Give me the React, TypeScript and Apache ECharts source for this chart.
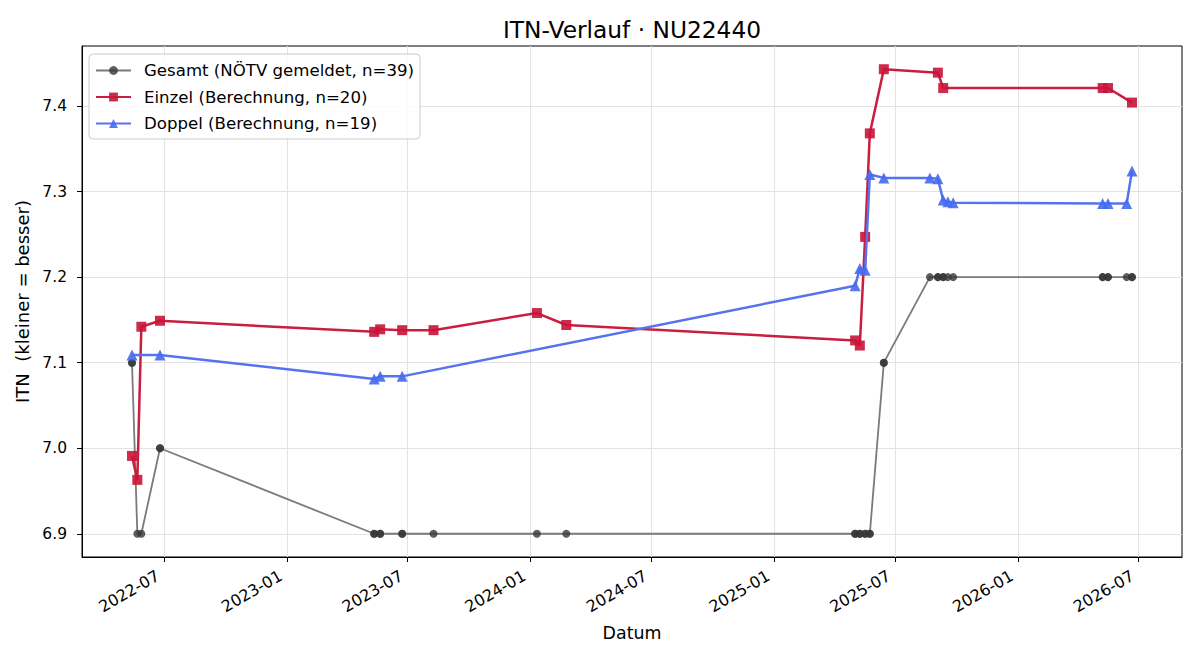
import React, { useEffect, useRef } from "react";
import * as echarts from "echarts";

// Einzel-Berechnungen (Datum, ITN)
const einzelDates = [
  "2022-05-14", "2022-05-22", "2022-05-28", "2022-06-25",
  "2023-05-12", "2023-05-21", "2023-06-23", "2023-08-09",
  "2024-01-11", "2024-02-24",
  "2025-05-02", "2025-05-09", "2025-05-17", "2025-05-24", "2025-06-14",
  "2025-09-03", "2025-09-11",
  "2026-05-08", "2026-05-16", "2026-06-21",
];
const einzelValues = [
  6.991, 6.963, 7.142, 7.149,
  7.136, 7.139, 7.138, 7.138,
  7.158, 7.144,
  7.126, 7.12, 7.247, 7.368, 7.443,
  7.439, 7.421,
  7.421, 7.421, 7.404,
];

// Doppel-Berechnungen (Datum, ITN)
const doppelDates = [
  "2022-05-14", "2022-06-25",
  "2023-05-12", "2023-05-21", "2023-06-23",
  "2025-05-02", "2025-05-09", "2025-05-17", "2025-05-24", "2025-06-14",
  "2025-08-22", "2025-09-03", "2025-09-11", "2025-09-18", "2025-09-26",
  "2026-05-08", "2026-05-16", "2026-06-13", "2026-06-21",
];
const doppelValues = [
  7.109, 7.109,
  7.081, 7.084, 7.084,
  7.19, 7.21, 7.208, 7.32, 7.316,
  7.316, 7.315, 7.29, 7.288, 7.287,
  7.286, 7.286, 7.286, 7.324,
];

// Vom NÖTV gemeldete Werte, ein Eintrag pro Spiel
const gesamtDates = [
  "2022-05-14", "2022-05-14", "2022-05-22", "2022-05-28", "2022-06-25", "2022-06-25",
  "2023-05-12", "2023-05-12", "2023-05-21", "2023-05-21", "2023-06-23", "2023-06-23",
  "2023-08-09", "2024-01-11", "2024-02-24",
  "2025-05-02", "2025-05-02", "2025-05-09", "2025-05-09",
  "2025-05-17", "2025-05-17", "2025-05-24", "2025-05-24",
  "2025-06-14", "2025-06-14",
  "2025-08-22", "2025-09-03", "2025-09-03", "2025-09-11", "2025-09-11",
  "2025-09-18", "2025-09-26",
  "2026-05-08", "2026-05-08", "2026-05-16", "2026-05-16",
  "2026-06-13", "2026-06-21", "2026-06-21",
];
const gesamtValues = [
  7.1, 7.1, 6.9, 6.9, 7.0, 7.0,
  6.9, 6.9, 6.9, 6.9, 6.9, 6.9,
  6.9, 6.9, 6.9,
  6.9, 6.9, 6.9, 6.9,
  6.9, 6.9, 6.9, 6.9,
  7.1, 7.1,
  7.2, 7.2, 7.2, 7.2, 7.2,
  7.2, 7.2,
  7.2, 7.2, 7.2, 7.2,
  7.2, 7.2, 7.2,
];

const xTickLabels = [
  "2022-07", "2023-01", "2023-07", "2024-01", "2024-07",
  "2025-01", "2025-07", "2026-01", "2026-07",
];
const yTickValues = [6.9, 7.0, 7.1, 7.2, 7.3, 7.4];

const FONT = "DejaVu Sans";

const toTime = (s: string) => {
  const [y, m, d] = s.split("-").map(Number);
  return Date.UTC(y, m - 1, d || 1);
};
const pad2 = (n: number) => (n < 10 ? "0" + n : String(n));
const fmtMonth = (t: number) => {
  const d = new Date(t);
  return d.getUTCFullYear() + "-" + pad2(d.getUTCMonth() + 1);
};

const pairs = (dates: string[], values: number[]) =>
  dates.map((d, i) => [toTime(d), values[i]]);

export default function App() {
  const ref = useRef<HTMLDivElement>(null);

  useEffect(() => {
    if (!ref.current) return;
    const chart = echarts.init(ref.current, undefined, { renderer: "svg" });

    const allT = [...gesamtDates, ...einzelDates, ...doppelDates].map(toTime);
    const allV = [...gesamtValues, ...einzelValues, ...doppelValues];
    const tMin = Math.min(...allT);
    const tMax = Math.max(...allT);
    const vMin = Math.min(...allV);
    const vMax = Math.max(...allV);
    const tPad = (tMax - tMin) * 0.05;
    const vPad = (vMax - vMin) * 0.05;

    const xTicks = xTickLabels.map(toTime);

    chart.setOption({
      animation: false,
      backgroundColor: "#ffffff",
      textStyle: { fontFamily: FONT, color: "#000" },
      title: {
        text: "ITN-Verlauf · NU22440",
        left: 627,
        top: 13,
        textAlign: "center",
        textStyle: { fontFamily: FONT, fontSize: 23.3, fontWeight: "normal", color: "#000" },
      },
      legend: {
        orient: "vertical",
        left: 89,
        top: 54,
        itemWidth: 35,
        itemHeight: 11,
        itemGap: 9.5,
        padding: [8, 6, 7, 6],
        borderColor: "#cccccc",
        borderWidth: 1,
        borderRadius: 4,
        backgroundColor: "rgba(255,255,255,0.85)",
        textStyle: { fontFamily: FONT, fontSize: 16.6, color: "#000", padding: [0, 0, 0, 8] },
        data: ["Gesamt (NÖTV gemeldet, n=39)", "Einzel (Berechnung, n=20)", "Doppel (Berechnung, n=19)"],
      },
      grid: {
        left: 82,
        top: 46,
        right: 18,
        bottom: 103,
        show: true,
        borderColor: "#000",
        borderWidth: 1,
        backgroundColor: "transparent",
      },
      xAxis: {
        type: "value",
        min: tMin - tPad,
        max: tMax + tPad,
        name: "Datum",
        nameLocation: "middle",
        nameGap: 67,
        nameTextStyle: { fontFamily: FONT, fontSize: 17.4, color: "#000" },
        axisLine: { show: true, lineStyle: { color: "#000", width: 1 } },
        axisTick: { show: true, length: 5, lineStyle: { color: "#000" }, customValues: xTicks },
        axisLabel: {
          customValues: xTicks,
          rotate: 30,
          fontSize: 16,
          color: "#000",
          fontFamily: FONT,
          margin: 14,
          padding: [0, 7, 0, 0],
          formatter: (v: number) => fmtMonth(v),
        },
        splitLine: { show: true, lineStyle: { color: "#e3e3e3", width: 1 } },
      },
      yAxis: {
        type: "value",
        min: vMin - vPad,
        max: vMax + vPad,
        name: "ITN  (kleiner = besser)",
        nameLocation: "middle",
        nameRotate: 90,
        nameGap: 47,
        nameTextStyle: { fontFamily: FONT, fontSize: 18, color: "#000" },
        axisLine: { show: true, lineStyle: { color: "#000", width: 1 } },
        axisTick: { show: true, length: 5, lineStyle: { color: "#000" }, customValues: yTickValues },
        axisLabel: {
          customValues: yTickValues,
          fontSize: 15.5,
          color: "#000",
          fontFamily: FONT,
          margin: 15,
          formatter: (v: number) => v.toFixed(1),
        },
        splitLine: { show: true, lineStyle: { color: "#e3e3e3", width: 1 } },
      },
      series: [
        {
          name: "Gesamt (NÖTV gemeldet, n=39)",
          type: "line",
          data: pairs(gesamtDates, gesamtValues),
          symbol: "circle",
          symbolSize: 8,
          showAllSymbol: true,
          lineStyle: { color: "#7a7a7a", width: 1.8 },
          itemStyle: { color: "rgba(55,55,55,0.8)", borderWidth: 0 },
          z: 2,
        },
        {
          name: "Einzel (Berechnung, n=20)",
          type: "line",
          data: pairs(einzelDates, einzelValues),
          symbol: "rect",
          symbolSize: 10,
          showAllSymbol: true,
          lineStyle: { color: "#c91e3e", width: 2.5 },
          itemStyle: { color: "rgba(200,20,55,0.9)", borderWidth: 0 },
          z: 3,
        },
        {
          name: "Doppel (Berechnung, n=19)",
          type: "line",
          data: pairs(doppelDates, doppelValues),
          symbol: "triangle",
          symbolSize: 11,
          showAllSymbol: true,
          lineStyle: { color: "#5673ef", width: 2.5 },
          itemStyle: { color: "rgba(70,105,240,0.9)", borderWidth: 0 },
          z: 4,
        },
      ],
    });

    return () => chart.dispose();
  }, []);

  return (
    <div
      ref={ref}
      style={{ position: "fixed", left: 0, top: 0, width: 1200, height: 660, background: "#fff" }}
    />
  );
}
